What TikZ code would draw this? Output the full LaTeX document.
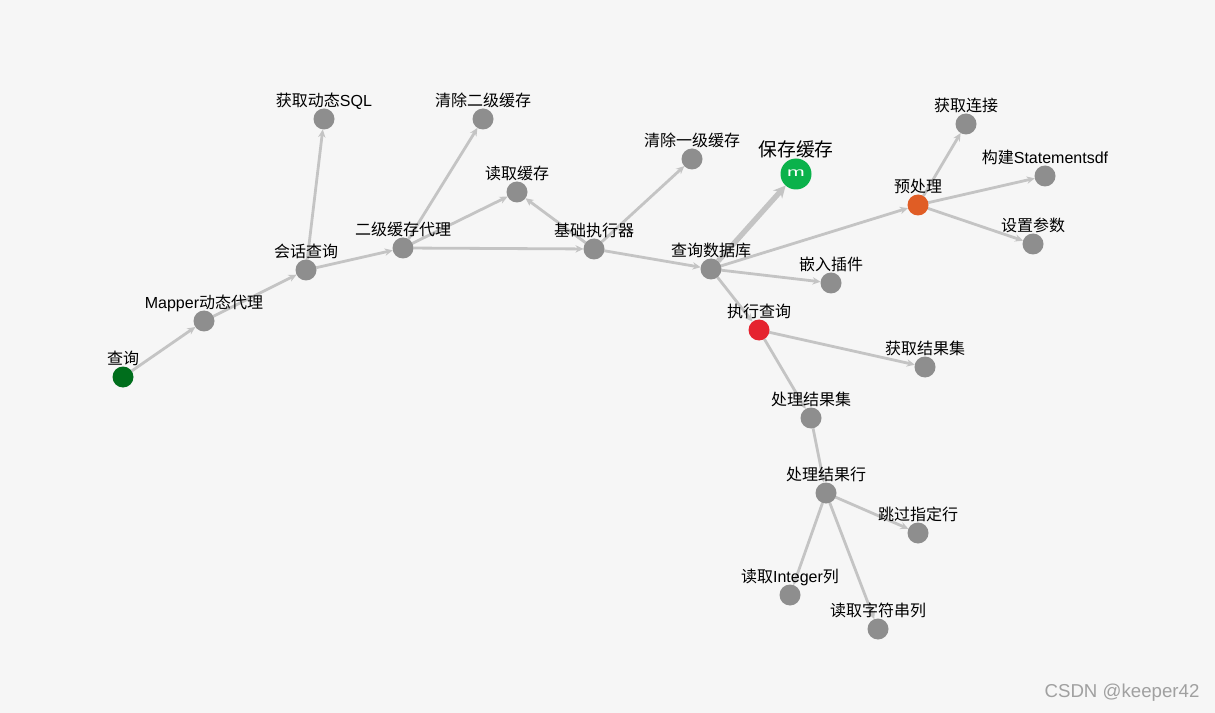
\documentclass[tikz,border=0pt]{standalone}
\usepackage{fontspec}
\usepackage{graphicx}
\setmainfont{Noto Sans CJK SC}
\newfontfamily\latfont{Liberation Sans}
\newcommand{\lat}[1]{{\latfont #1}}
\usetikzlibrary{arrows.meta,backgrounds}
\definecolor{bgcol}{HTML}{F6F6F6}
\definecolor{dotgray}{HTML}{8E8E8E}
\definecolor{linkgray}{HTML}{C4C4C4}
\definecolor{startgreen}{HTML}{006E1C}
\definecolor{cachegreen}{HTML}{0BB24B}
\definecolor{preorange}{HTML}{E05D25}
\definecolor{execred}{HTML}{E5232F}
\definecolor{markgray}{HTML}{A0A0A0}
\tikzset{
  x=0.75pt,y=-0.75pt,
  dot/.style={circle,fill=dotgray,draw=none,minimum size=15.75pt,inner sep=0pt,outer sep=0pt,
    label={[lab,label distance=-1.1pt]above:#1}},
  lab/.style={font=\fontsize{12pt}{14pt}\selectfont,text=black,inner sep=0pt,text height=9.5pt,text depth=2.5pt},
  biglab/.style={font=\fontsize{14.1pt}{16pt}\selectfont,text=black,inner sep=0pt,text height=11pt,text depth=3pt},
  link/.style={draw=linkgray,line width=2.1pt,-{Stealth[length=6pt,width=5.5pt]}},
  heavy/.style={draw=linkgray,line width=4pt,-{Stealth[length=9pt,width=9pt]}},
}
\begin{document}
\begin{tikzpicture}
\useasboundingbox (0,0) rectangle (1215,713);
\node[dot=查询,fill=startgreen] (q) at (123,377) {};
\node[dot={\lat{Mapper}动态代理}] (mapper) at (204,321) {};
\node[dot=会话查询] (sess) at (306,270) {};
\node[dot={获取动态\lat{SQL}}] (sql) at (324,119) {};
\node[dot=二级缓存代理] (l2) at (403,248) {};
\node[dot=清除二级缓存] (c2) at (483,119) {};
\node[dot=读取缓存] (rc) at (517,192) {};
\node[dot=基础执行器] (base) at (594,249) {};
\node[dot=清除一级缓存] (c1) at (692,159) {};
\node[dot=查询数据库] (db) at (711,269) {};
\node[circle,fill=cachegreen,minimum size=23.25pt,inner sep=0pt,outer sep=0pt,text=white,
  font=\fontsize{11pt}{11pt}\selectfont,
  label={[biglab,label distance=-1.4pt]above:保存缓存}] (save) at (796,174) {\raisebox{1pt}{\scalebox{1.45}[0.85]{\lat{m}}}};
\node[dot=预处理,fill=preorange] (pre) at (918,205) {};
\node[dot=获取连接] (conn) at (966,124) {};
\node[dot={构建\lat{Statementsdf}}] (stmt) at (1045,176) {};
\node[dot=设置参数] (param) at (1033,244) {};
\node[dot=嵌入插件] (plug) at (831,283) {};
\node[dot=执行查询,fill=execred] (exec) at (759,330) {};
\node[dot=获取结果集] (grs) at (925,367) {};
\node[dot=处理结果集] (prs) at (811,418) {};
\node[dot=处理结果行] (row) at (826,493) {};
\node[dot=跳过指定行] (skip) at (918,533) {};
\node[dot={读取\lat{Integer}列}] (int) at (790,595) {};
\node[dot=读取字符串列] (str) at (878,629) {};
\node[font=\latfont\fontsize{14pt}{16pt}\selectfont,text=markgray,inner sep=0pt] (mark) at (1122,693) {CSDN @keeper42};
\begin{scope}[on background layer]
\fill[bgcol] (0,0) rectangle (1215,713);
\draw[link] (q) -- (mapper);
\draw[link] (mapper) -- (sess);
\draw[link] (sess) -- (sql);
\draw[link] (sess) -- (l2);
\draw[link] (l2) -- (c2);
\draw[link] (l2) -- (rc);
\draw[link] (l2) -- (base);
\draw[link] (base) -- (rc);
\draw[link] (base) -- (c1);
\draw[link] (base) -- (db);
\draw[heavy] (db) -- (save);
\draw[link] (db) -- (pre);
\draw[link] (db) -- (plug);
\draw[link] (db) -- (exec);
\draw[link] (pre) -- (conn);
\draw[link] (pre) -- (stmt);
\draw[link] (pre) -- (param);
\draw[link] (exec) -- (grs);
\draw[link] (exec) -- (prs);
\draw[link] (prs) -- (row);
\draw[link] (row) -- (skip);
\draw[link] (row) -- (int);
\draw[link] (row) -- (str);
\end{scope}
\end{tikzpicture}
\end{document}
